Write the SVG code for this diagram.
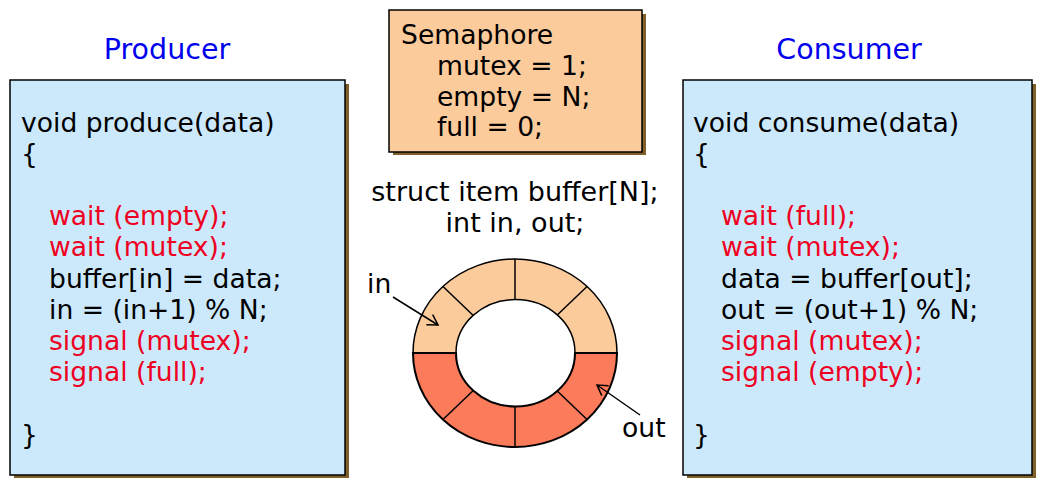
<svg xmlns="http://www.w3.org/2000/svg" width="1042" height="486" viewBox="0 0 1042 486">
<defs>
<style>
text{font-family:"DejaVu Sans","Verdana",sans-serif;font-size:26.6px;fill:#000}
.title{fill:#0000ee;font-size:28.5px}
.red{fill:#ee0022}
.box{fill:#cce9fc;stroke:#000;stroke-width:1.5}
.sem{fill:#fccb9b;stroke:#000;stroke-width:1.5}
.shadow{fill:#80602a}
.seg{stroke:#000;stroke-width:1.5}
.arrow{fill:none;stroke:#000;stroke-width:1.5}
</style>
<marker id="open" markerWidth="14" markerHeight="14" refX="11" refY="7" orient="auto" markerUnits="userSpaceOnUse">
<path d="M1,1 L11,7 L1,13" fill="none" stroke="#000" stroke-width="1.5"/>
</marker>
</defs>
<rect width="1042" height="486" fill="#fff"/>

<g id="producer">
<text class="title" x="167" y="59" text-anchor="middle">Producer</text>
<rect class="shadow" x="14" y="84" width="335" height="394"/>
<rect class="box" x="10" y="80" width="335" height="395"/>
<text x="21" y="131.5">void produce(data)</text>
<text x="21" y="162.7">{</text>
<text class="red" x="49" y="225.1">wait (empty);</text>
<text class="red" x="49" y="256.3">wait (mutex);</text>
<text x="49" y="287.5">buffer[in] = data;</text>
<text x="49" y="318.7">in = (in+1) % N;</text>
<text class="red" x="49" y="349.9">signal (mutex);</text>
<text class="red" x="49" y="381.1">signal (full);</text>
<text x="21" y="443.5">}</text>
</g>

<g id="consumer">
<text class="title" x="849" y="59" text-anchor="middle">Consumer</text>
<rect class="shadow" x="687" y="84" width="349" height="394"/>
<rect class="box" x="683" y="80" width="349" height="395"/>
<text x="693" y="131.5">void consume(data)</text>
<text x="693" y="162.7">{</text>
<text class="red" x="721" y="225.1">wait (full);</text>
<text class="red" x="721" y="256.3">wait (mutex);</text>
<text x="721" y="287.5">data = buffer[out];</text>
<text x="721" y="318.7">out = (out+1) % N;</text>
<text class="red" x="721" y="349.9">signal (mutex);</text>
<text class="red" x="721" y="381.1">signal (empty);</text>
<text x="693" y="443.5">}</text>
</g>

<g id="semaphore">
<rect class="shadow" x="393" y="14" width="253" height="141"/>
<rect class="sem" x="389" y="10" width="253" height="142"/>
<text x="401" y="44">Semaphore</text>
<text x="437" y="75">mutex = 1;</text>
<text x="437" y="105.5">empty = N;</text>
<text x="437" y="136">full = 0;</text>
</g>

<g id="buffer-decl">
<text x="515" y="201" text-anchor="middle" style="font-size:27px">struct item buffer[N];</text>
<text x="515" y="232" text-anchor="middle" style="font-size:27px">int in, out;</text>
</g>

<g id="ring">
<path d="M413,353 A102,94 0 0 1 617,353 L575,353 A59.5,53.5 0 0 0 456,353 Z" fill="#fccb9b" stroke="#000" stroke-width="1.5"/>
<path d="M413,353 A102,94 0 0 0 617,353 L575,353 A59.5,53.5 0 0 1 456,353 Z" fill="#fb7b5b" stroke="#000" stroke-width="2"/>
<line class="seg" x1="413" y1="353" x2="456" y2="353" stroke-width="2.5"/>
<line class="seg" x1="575" y1="353" x2="617" y2="353" stroke-width="2.5"/>
<line class="seg" x1="515" y1="259" x2="515" y2="299.5"/>
<line class="seg" x1="515" y1="406.5" x2="515" y2="447"/>
<line class="seg" x1="443" y1="286.5" x2="473" y2="315.2"/>
<line class="seg" x1="587" y1="286.5" x2="557" y2="315.2"/>
<line class="seg" x1="443" y1="419.5" x2="473" y2="390.8"/>
<line class="seg" x1="587" y1="419.5" x2="557" y2="390.8"/>
</g>

<g id="connectors">
<text x="367" y="293">in</text>
<line class="arrow" x1="393" y1="297" x2="438" y2="325" marker-end="url(#open)"/>
<text x="622" y="437">out</text>
<line class="arrow" x1="640" y1="415" x2="597" y2="385" marker-end="url(#open)"/>
</g>
</svg>
